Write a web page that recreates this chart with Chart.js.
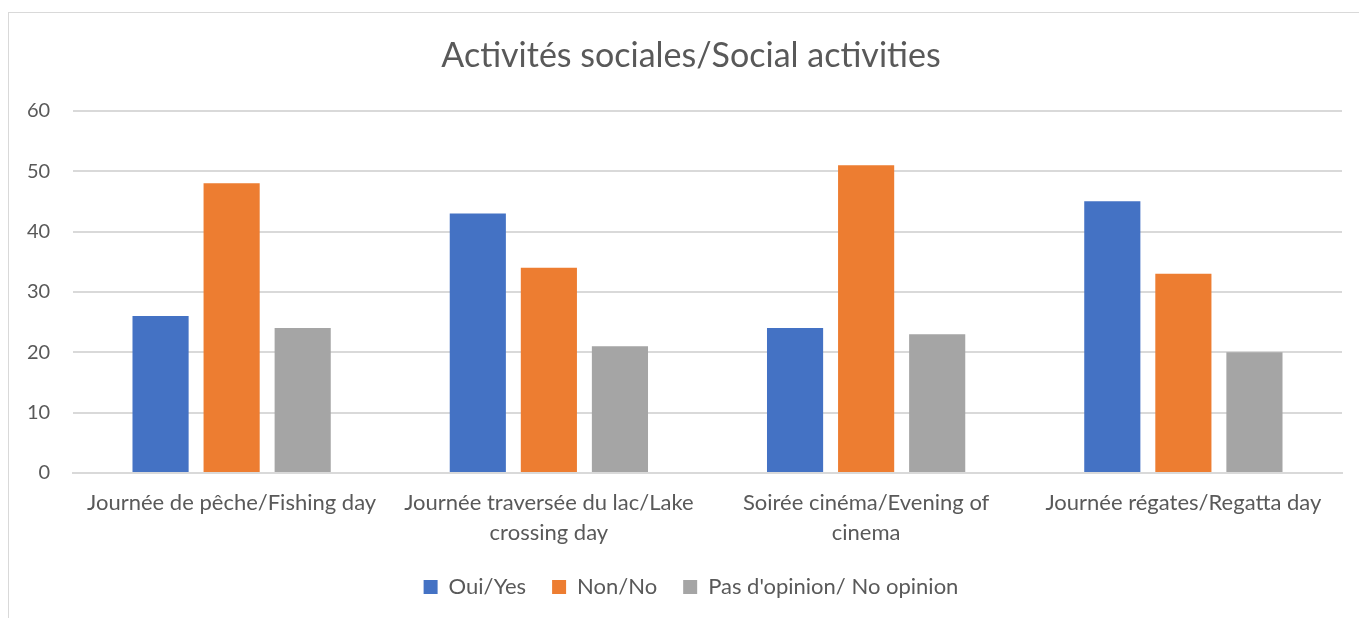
<!DOCTYPE html>
<html>
<head>
<meta charset="utf-8">
<script src="https://cdn.jsdelivr.net/npm/chart.js@4"></script>
<style>
    html, body { margin: 0; padding: 0; background: #fff; overflow: hidden; }
    /* the frame runs past the right edge of the window, as in the picture */
    #box {
        position: absolute; left: 8px; top: 12px;
        width: 1366px; height: 620px;
        border: 1px solid #d9d9d9; box-sizing: border-box;
    }
    #box canvas { display: block; }
</style>
</head>
<body>
<div id="box"><canvas id="chart" width="1364" height="618"></canvas></div>
<script>
const title = "Activités sociales/Social activities";
const categories = [
    "Journée de pêche/Fishing day",
    ["Journée traversée du lac/Lake", "crossing day"],
    ["Soirée cinéma/Evening of", "cinema"],
    "Journée régates/Regatta day",
];
const seriesNames = ["Oui/Yes", "Non/No", "Pas d'opinion/ No opinion"];
const yesValues = [26, 43, 24, 45];
const noValues = [48, 34, 51, 33];
const noOpinionValues = [24, 21, 23, 20];
const colors = ["#4472C4", "#ED7D31", "#A5A5A5"];

const textColor = "#595959";
const fontFamily = "Lato, 'Liberation Sans', sans-serif";

const ctx = document.getElementById("chart").getContext("2d");
new Chart(ctx, {
    type: "bar",
    data: {
        labels: categories,
        datasets: [yesValues, noValues, noOpinionValues].map((values, i) => ({
            label: seriesNames[i],
            data: values,
            backgroundColor: colors[i],
            categoryPercentage: 0.672,
            barPercentage: 0.79,
        })),
    },
    options: {
        responsive: false,
        animation: false,
        // equal side padding keeps title and legend centred on the frame
        layout: { padding: { left: 31, right: 31, top: 0, bottom: 23 } },
        plugins: {
            title: {
                display: true,
                text: title,
                color: textColor,
                font: { family: fontFamily, size: 34, weight: "normal" },
                padding: { top: 23, bottom: 34 },
            },
            legend: {
                position: "bottom",
                labels: {
                    color: textColor,
                    font: { family: fontFamily, size: 22 },
                    boxWidth: 14,
                    boxHeight: 14,
                    padding: 26,
                },
            },
            tooltip: { enabled: false },
        },
        scales: {
            x: {
                // labels hang from the axis top; a shorter axis pulls the legend up
                afterFit: (scale) => { scale.height = 77; },
                grid: { display: false, drawTicks: false },
                border: { color: "#d9d9d9", width: 2 },
                ticks: {
                    color: textColor,
                    font: { family: fontFamily, size: 22, lineHeight: 1.364 },
                    padding: 15,
                    maxRotation: 0,
                    autoSkip: false,
                },
            },
            y: {
                min: 0,
                max: 60,
                afterFit: (scale) => { scale.width = 33; },
                grid: { color: "#d9d9d9", lineWidth: 2, drawTicks: false },
                border: { display: false },
                ticks: {
                    stepSize: 10,
                    color: textColor,
                    font: { family: fontFamily, size: 20 },
                    // mirrored so the labels can sit in the left padding without clipping
                    mirror: true,
                    crossAlign: "far",
                    padding: -46,
                },
            },
        },
    },
});
</script>
</body>
</html>
